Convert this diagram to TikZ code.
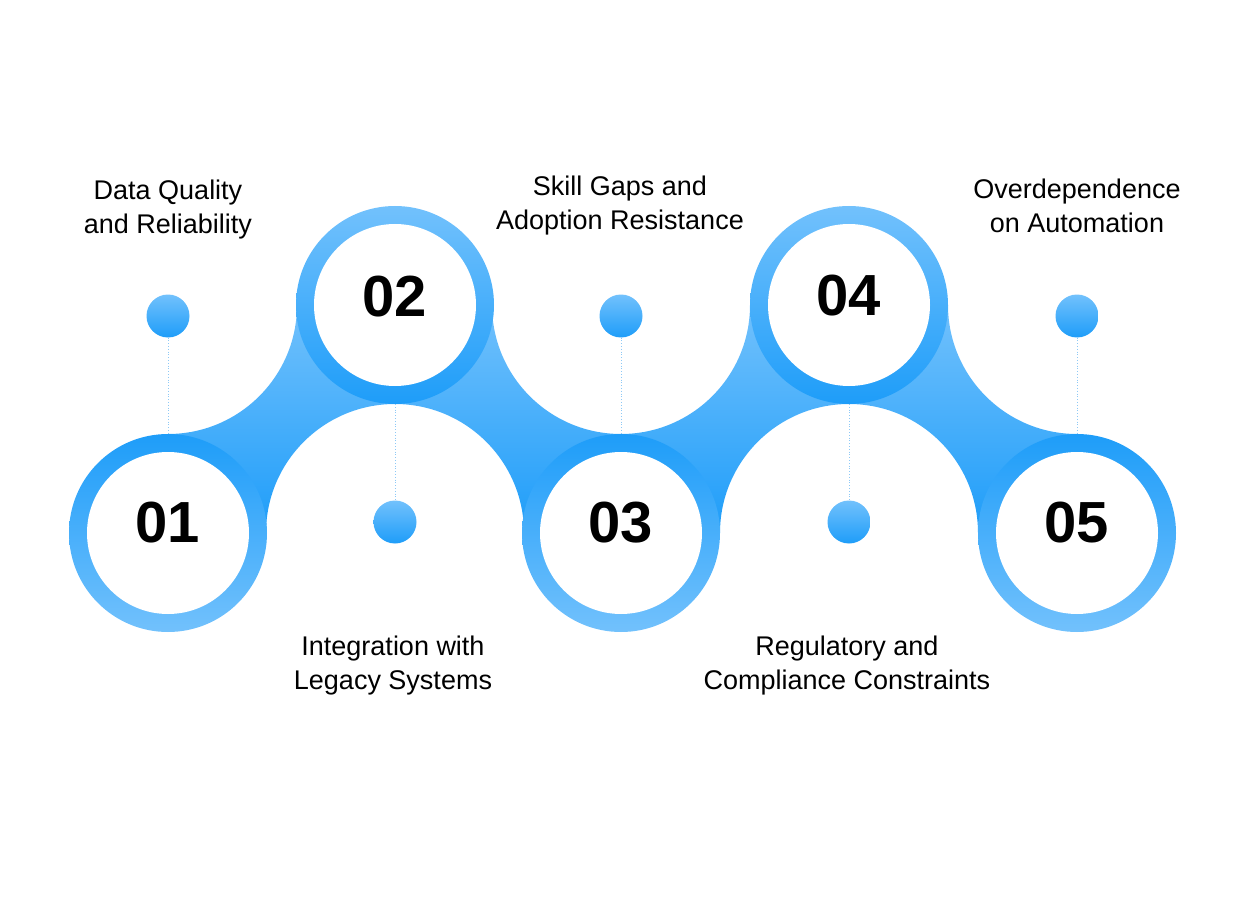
\documentclass[tikz,border=0pt]{standalone}
\usepackage{fontspec}
\setmainfont{Liberation Sans}
\definecolor{skylight}{HTML}{72C1FC}
\definecolor{skydeep}{HTML}{1E9DF9}
\definecolor{stemblue}{HTML}{8EC9F6}

\begin{document}
\begin{tikzpicture}[x=0.5pt,y=-0.5pt,
  ringup/.style={circle,minimum size=99pt,inner sep=0pt,outer sep=0pt,top color=skylight,bottom color=skydeep},
  ringdown/.style={circle,minimum size=99pt,inner sep=0pt,outer sep=0pt,top color=skydeep,bottom color=skylight},
  hole/.style={circle,minimum size=81pt,inner sep=0pt,fill=white},
  numtxt/.style={font=\bfseries\fontsize{29}{32}\selectfont,inner sep=0pt},
  bead/.style={circle,minimum size=21.5pt,inner sep=0pt,outer sep=0pt,top color=skylight,bottom color=skydeep},
  stem/.style={draw=stemblue,line width=0.4pt,densely dotted},
  captxt/.style={font=\fontsize{13.5}{17}\selectfont,align=center,inner sep=0pt},
  bridge/.style={top color=skylight,bottom color=skydeep}]
\useasboundingbox (0,0) rectangle (1260,904);

% bridges between the rings
\shade[bridge] (168,434) arc[start angle=270,end angle=360,radius=64.5pt] -- (395,305) -- (395,404)
  arc[start angle=90,end angle=180,radius=64.5pt] -- (168,533) -- cycle;
\shade[bridge] (395,305) -- (492,305) arc[start angle=180,end angle=270,radius=64.5pt] -- (621,533) -- (524,533)
  arc[start angle=0,end angle=90,radius=64.5pt] -- cycle;
\shade[bridge] (621,434) arc[start angle=270,end angle=360,radius=64.5pt] -- (849,305) -- (849,404)
  arc[start angle=90,end angle=180,radius=64.5pt] -- (621,533) -- cycle;
\shade[bridge] (849,305) -- (948,305) arc[start angle=180,end angle=270,radius=64.5pt] -- (1077,533) -- (978,533)
  arc[start angle=0,end angle=90,radius=64.5pt] -- cycle;

% rings
\node[ringdown] (c1) at (168,533) {};
\node[ringup] (c2) at (395,305) {};
\node[ringdown] (c3) at (621,533) {};
\node[ringup] (c4) at (849,305) {};
\node[ringdown] (c5) at (1077,533) {};
\node[hole] (h1) at (c1) {};
\node[hole] (h2) at (c2) {};
\node[hole] (h3) at (c3) {};
\node[hole] (h4) at (c4) {};
\node[hole] (h5) at (c5) {};
\node[numtxt] (n1) at ([yshift=5pt]c1) {01};
\node[numtxt] (n2) at ([yshift=4pt]c2) {02};
\node[numtxt] (n3) at ([yshift=5pt]c3) {03};
\node[numtxt] (n4) at ([yshift=4.5pt]c4) {04};
\node[numtxt] (n5) at ([yshift=5pt]c5) {05};

% beads and stems
\node[bead] (d1) at (168,316) {};
\node[bead] (d2) at (395,522) {};
\node[bead] (d3) at (621,316) {};
\node[bead] (d4) at (849,522) {};
\node[bead] (d5) at (1077,316) {};
\draw[stem] (d1) -- (c1);
\draw[stem] (c2) -- (d2);
\draw[stem] (d3) -- (c3);
\draw[stem] (c4) -- (d4);
\draw[stem] (d5) -- (c5);

% captions
\node[captxt] (t1) at (168,210) {Data Quality\\and Reliability};
\node[captxt] (t2) at (393,666) {Integration with\\Legacy Systems};
\node[captxt] (t3) at (620,206) {Skill Gaps and\\Adoption Resistance};
\node[captxt] (t4) at (847,666) {Regulatory and\\Compliance Constraints};
\node[captxt] (t5) at (1077,206) {Overdependence\\on Automation};
\end{tikzpicture}
\end{document}
